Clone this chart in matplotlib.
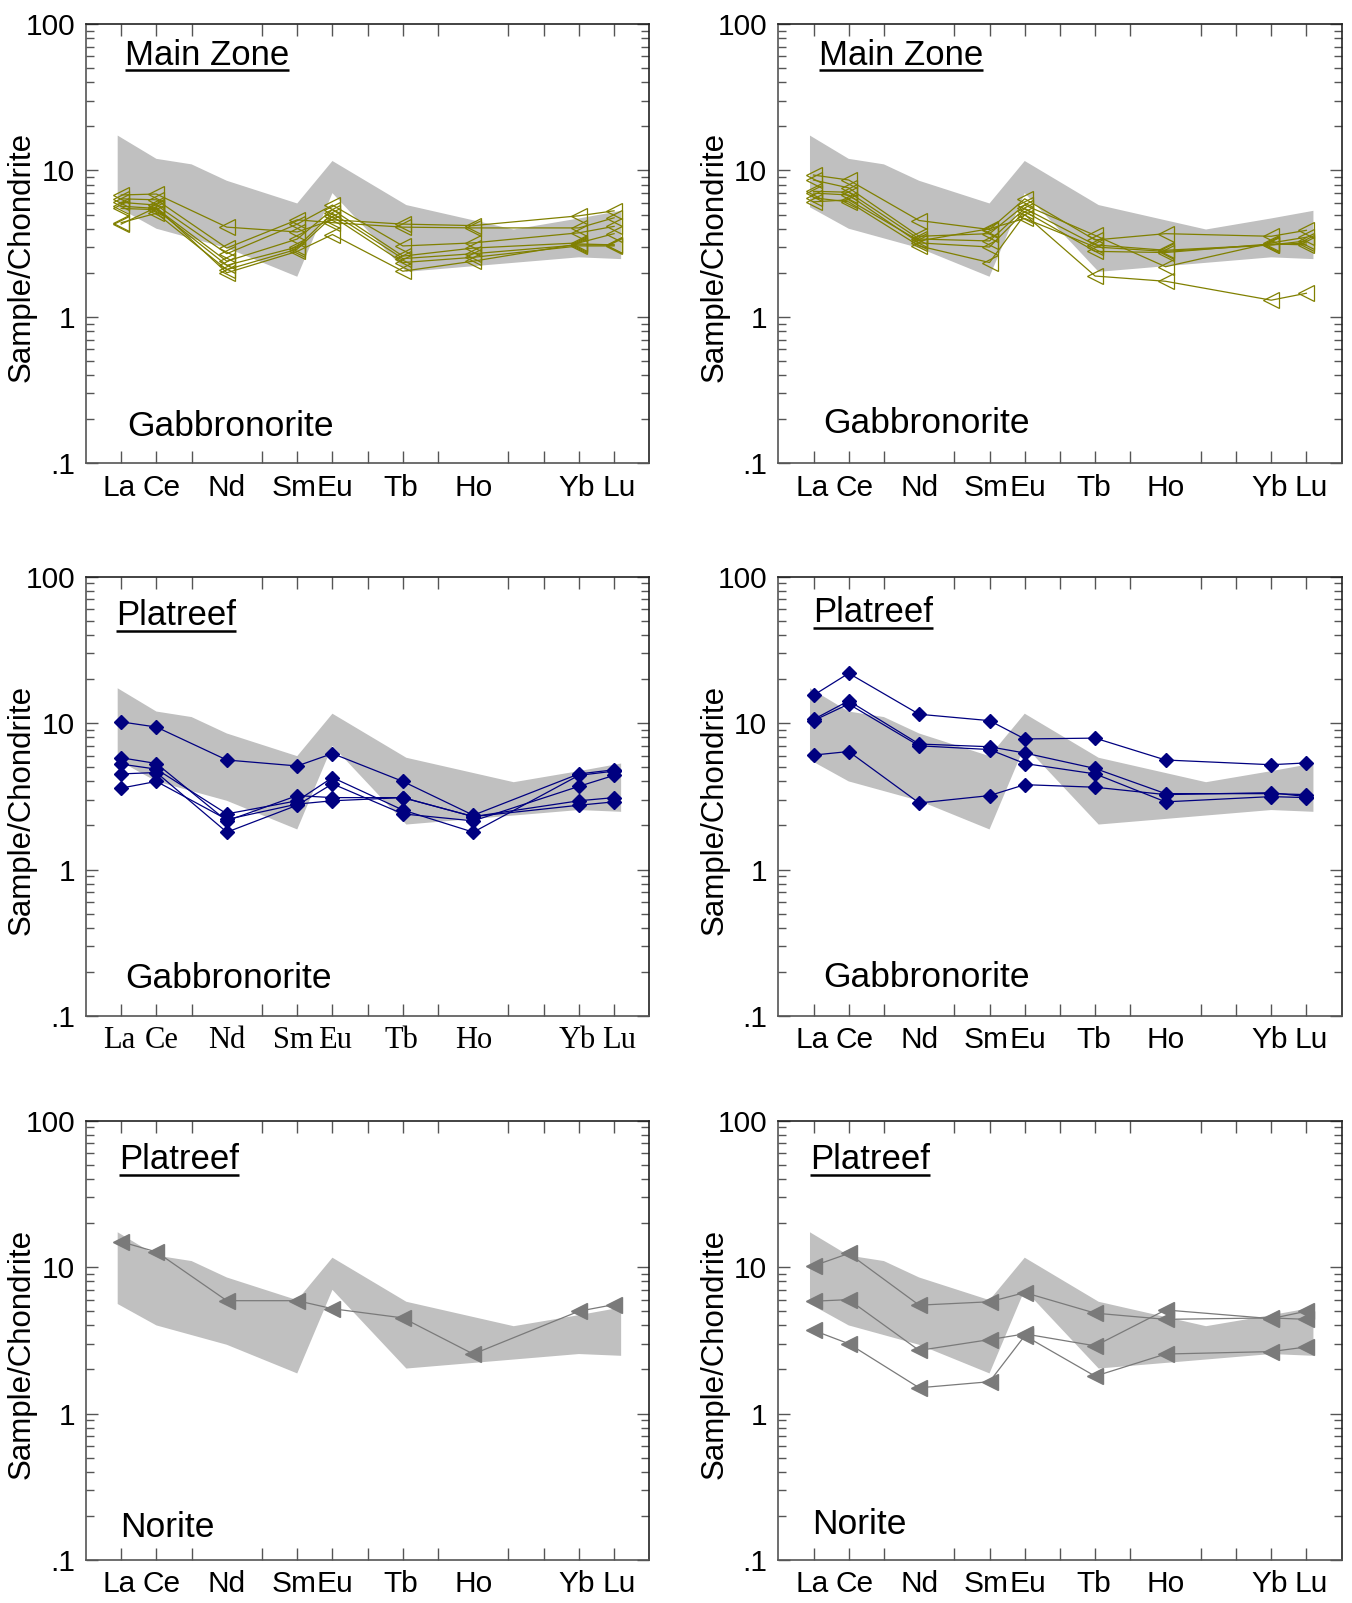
import matplotlib
matplotlib.use('Agg')
from matplotlib import pyplot as plt
from matplotlib.ticker import FixedLocator, FixedFormatter, LogLocator, NullFormatter

plt.rcParams['font.family'] = ['Liberation Sans', 'DejaVu Sans']

# REE order, one slot per element
elements = ["La", "Ce", "Pr", "Nd", "Pm", "Sm", "Eu", "Gd", "Tb", "Dy", "Ho", "Er", "Tm", "Yb", "Lu"]
labelled = ["La", "Ce", "Nd", "Sm", "Eu", "Tb", "Ho", "Yb", "Lu"]
measured = ["La", "Ce", "Nd", "Sm", "Eu", "Tb", "Ho", "Yb", "Lu"]

# grey reference field (same in every panel)
env_up_x = [0.9, 2, 3, 4, 6, 7, 9.1, 12.15, 14, 15.2]
env_up_y = [17.3, 12.0, 11.0, 8.5, 5.95, 11.6, 5.8, 3.95, 4.7, 5.3]
env_lo_x = [0.9, 2, 4, 6, 7, 9.1, 14, 15.2]
env_lo_y = [5.6, 4.0, 2.95, 1.88, 7.0, 2.03, 2.55, 2.48]

# Main Zone gabbronorite, left
mz_left = [
    [6.8, 6.9, 4.1, 3.8, 4.6, 4.3, 4.2, 4.9, 5.3],
    [6.4, 6.3, 2.95, 4.6, 4.4, 4.1, 4.05, 4.05, 4.75],
    [6.05, 5.8, 2.7, 4.3, 5.8, 3.05, 3.2, 3.75, 4.15],
    [5.7, 5.5, 2.4, 3.4, 5.4, 2.6, 2.95, 3.2, 3.7],
    [5.5, 5.4, 2.25, 3.0, 5.1, 2.5, 2.7, 3.1, 3.1],
    [4.4, 5.1, 2.1, 2.9, 4.85, 2.35, 2.55, 3.05, 3.05],
    [4.3, 5.6, 2.0, 2.8, 3.65, 2.05, 2.4, 3.15, 3.1],
]
# Main Zone gabbronorite, right
mz_right = [
    [9.3, 8.6, 4.55, 3.95, 6.4, 3.35, 3.7, 3.55, 3.9],
    [8.6, 7.6, 3.55, 3.7, 5.8, 3.6, 2.2, 3.2, 3.5],
    [7.2, 7.1, 3.4, 3.3, 5.5, 3.1, 2.85, 3.1, 3.2],
    [7.0, 6.8, 3.2, 3.0, 5.25, 2.8, 2.75, 3.15, 3.1],
    [6.5, 6.1, 3.05, 2.35, 5.0, 1.9, 1.75, 1.3, 1.45],
    [6.1, 6.3, 3.3, 4.0, 4.7, 3.0, 2.8, 3.1, 3.3],
]
# Platreef gabbronorite, left
pr_gbn_left = [
    [10.2, 9.4, 5.6, 5.1, 6.2, 4.0, 2.35, 4.5, 4.8],
    [5.8, 5.3, 2.15, 3.2, 3.1, 3.1, 2.3, 2.95, 3.1],
    [5.25, 4.85, 2.4, 2.95, 4.25, 2.55, 1.8, 4.4, 4.7],
    [4.5, 4.6, 1.8, 2.75, 3.85, 2.4, 2.15, 3.7, 4.4],
    [3.6, 4.0, 2.2, 2.8, 2.95, 3.1, 2.3, 2.75, 2.9],
]
# Platreef gabbronorite, right
pr_gbn_right = [
    [15.5, 21.9, 11.5, 10.4, 7.8, 7.9, 5.6, 5.2, 5.35],
    [10.6, 14.2, 7.2, 6.9, 6.25, 4.9, 3.3, 3.3, 3.25],
    [10.4, 13.5, 7.0, 6.6, 5.3, 4.5, 2.9, 3.15, 3.1],
    [6.05, 6.4, 2.85, 3.2, 3.8, 3.65, 3.25, 3.35, 3.15],
]
# Platreef norite
pr_nor_left = [
    [14.9, 12.7, 5.9, 5.9, 5.2, 4.5, 2.55, 5.0, 5.55],
]
pr_nor_right = [
    [10.2, 12.4, 5.5, 5.8, 6.7, 4.85, 4.4, 4.5, 4.4],
    [5.85, 6.0, 2.7, 3.2, 3.5, 2.9, 5.1, 4.45, 5.0],
    [3.7, 3.0, 1.5, 1.65, 3.4, 1.8, 2.55, 2.65, 2.85],
]

# small sideways nudges of the element labels (layout only)
label_nudge = {"La": -0.05, "Ce": 0.16, "Nd": 0.0, "Sm": -0.1, "Eu": 0.08,
               "Tb": -0.05, "Ho": 0.0, "Yb": -0.05, "Lu": 0.14}

W, H = 1352, 1603
fig = plt.figure(figsize=(W / 100, H / 100), dpi=100)

xpos = [elements.index(e) + 1 for e in measured]
lab_pos = [elements.index(e) + 1 + label_nudge[e] for e in labelled]
col_x = [86 / W, 778.3 / W]
row_y = [1 - 463.3 / H, 1 - 1016 / H, 1 - 1560 / H]
aw, ah = 563.3 / W, 439.3 / H

panels = [
    # row, col, data, marker, color, filled, title, rock, title xy, rock xy, serif ticks
    (0, 0, mz_left, '<', '#808000', False, "Main Zone", "Gabbronorite", (0.069, 0.907), (0.074, 0.062), False),
    (0, 1, mz_right, '<', '#808000', False, "Main Zone", "Gabbronorite", (0.072, 0.907), (0.079, 0.070), False),
    (1, 0, pr_gbn_left, 'D', '#000080', True, "Platreef", "Gabbronorite", (0.054, 0.890), (0.070, 0.063), True),
    (1, 1, pr_gbn_right, 'D', '#000080', True, "Platreef", "Gabbronorite", (0.061, 0.896), (0.079, 0.067), False),
    (2, 0, pr_nor_left, '<', '#7a7a7a', True, "Platreef", "Norite", (0.058, 0.890), (0.060, 0.053), False),
    (2, 1, pr_nor_right, '<', '#7a7a7a', True, "Platreef", "Norite", (0.056, 0.890), (0.060, 0.059), False),
]

renderer = fig.canvas.get_renderer()
for row, col, series, mk, colr, filled, title, rock, txy, rxy, serif in panels:
    ax = fig.add_axes([col_x[col], row_y[row], aw, ah])
    ax.set_yscale('log')
    ax.set_xlim(0, 16)
    ax.set_ylim(0.1, 100)

    env_x = env_up_x + env_lo_x[::-1]
    env_y = env_up_y + env_lo_y[::-1]
    ax.fill(env_x, env_y, color='#c0c0c0', lw=0, zorder=1)

    for s in series:
        if filled:
            ax.plot(xpos, s, color=colr, lw=0.9, marker=mk,
                    ms=7.5 if mk == 'D' else 11, mfc=colr, mec=colr, mew=1, zorder=3)
        else:
            ax.plot(xpos, s, color=colr, lw=0.9, marker=mk,
                    ms=11, mfc='none', mec=colr, mew=0.9, zorder=3)

    # x: tick marks at every element (minor), labels on their own (major, no mark)
    ax.xaxis.set_minor_locator(FixedLocator(range(1, 16)))
    ax.xaxis.set_minor_formatter(NullFormatter())
    ax.xaxis.set_major_locator(FixedLocator(lab_pos))
    ax.xaxis.set_major_formatter(FixedFormatter(labelled))
    ax.tick_params(axis='x', which='minor', direction='in', top=True, bottom=True,
                   length=8.5, width=1, color='#555555')
    ax.tick_params(axis='x', which='major', direction='in', top=False, bottom=True,
                   length=0, pad=7.5, labelsize=21.5)

    ax.yaxis.set_major_locator(FixedLocator([0.1, 1, 10, 100]))
    ax.yaxis.set_major_formatter(FixedFormatter(['.1', '1', '10', '100']))
    ax.yaxis.set_minor_locator(LogLocator(base=10, subs=range(2, 10)))
    ax.yaxis.set_minor_formatter(NullFormatter())
    ax.tick_params(axis='y', which='major', direction='in', left=True, right=True,
                   length=8.5, width=1, color='#555555', pad=8, labelsize=21.5)
    ax.tick_params(axis='y', which='minor', direction='in', left=True, right=True,
                   length=5.5, width=1, color='#555555')
    if serif:
        for lab in ax.get_xticklabels():
            lab.set_fontfamily(['Liberation Serif', 'DejaVu Serif'])
            lab.set_fontsize(22)
    for side in ['left', 'bottom']:
        ax.spines[side].set_color('#555555')
    for side in ['top', 'right']:
        ax.spines[side].set_color('#222222')
    for sp in ax.spines.values():
        sp.set_linewidth(1.2)

    ax.set_ylabel("Sample/Chondrite", fontsize=22.5)
    ax.yaxis.set_label_coords(-0.087, 0.47)

    t = ax.text(txy[0], txy[1], title, transform=ax.transAxes, fontsize=25, va='baseline')
    bb = t.get_window_extent(renderer)
    inv = ax.transAxes.inverted()
    x0 = inv.transform((bb.x0, bb.y0))[0]
    x1 = inv.transform((bb.x1, bb.y0))[0]
    uy = txy[1] - 5.5 / 439.3
    ax.plot([x0, x1], [uy, uy], transform=ax.transAxes, color='black', lw=1.8,
            solid_capstyle='butt', clip_on=False)

    ax.text(rxy[0], rxy[1], rock, transform=ax.transAxes, fontsize=25.5, va='baseline')

plt.savefig("out.png", dpi=100)
